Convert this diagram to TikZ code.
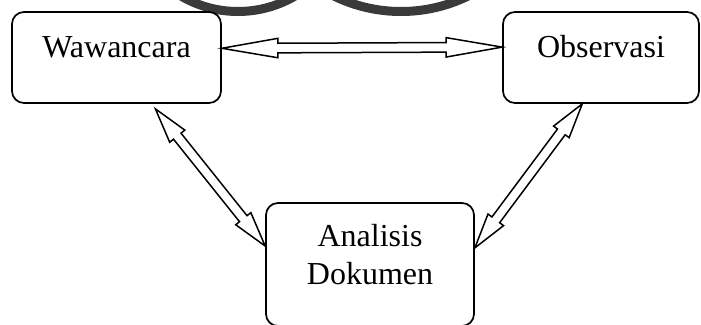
\documentclass[tikz,border=0pt]{standalone}
\usepackage{fontspec}
\setmainfont{Liberation Serif}
\usepackage{tikz}
\usetikzlibrary{calc}
\definecolor{arcgray}{HTML}{3A3A3A}

\newcommand{\hdlen}{35pt}
\tikzset{
  box/.style={draw, rounded corners=12pt, line width=1.7pt, inner sep=0pt,
    font=\fontsize{32pt}{38pt}\selectfont},
  head len/.code={\renewcommand{\hdlen}{#1}},
  hollow arrow/.style={draw, fill=white, line width=1.5pt, line join=miter,
    to path={
      -- ($(\tikztostart)!\hdlen!(\tikztotarget)!9.7pt!90:(\tikztotarget)$)
      -- ($(\tikztostart)!\hdlen!(\tikztotarget)!4.8pt!90:(\tikztotarget)$)
      -- ($(\tikztotarget)!\hdlen!(\tikztostart)!4.8pt!-90:(\tikztostart)$)
      -- ($(\tikztotarget)!\hdlen!(\tikztostart)!9.7pt!-90:(\tikztostart)$)
      -- (\tikztotarget)
      -- ($(\tikztotarget)!\hdlen!(\tikztostart)!9.7pt!90:(\tikztostart)$)
      -- ($(\tikztotarget)!\hdlen!(\tikztostart)!4.8pt!90:(\tikztostart)$)
      -- ($(\tikztostart)!\hdlen!(\tikztotarget)!4.8pt!-90:(\tikztotarget)$)
      -- ($(\tikztostart)!\hdlen!(\tikztotarget)!9.7pt!-90:(\tikztotarget)$)
      -- cycle}}
}

\begin{document}
\begin{tikzpicture}[x=1pt, y=-1pt]
    \useasboundingbox (0,0) rectangle (701,324);
    \clip (0,0) rectangle (701,324);

    % Rings cut off at the top
    \draw[line width=9pt, arcgray] (238,-101) circle (112.5pt);
    \draw[line width=9pt, arcgray] (401,-141) circle (152.5pt);

    % Boxes
    \node[box, anchor=base, minimum width=209pt, text height=45pt, text depth=46pt]
        (ww) at (116.5,57) {Wawancara};
    \node[box, anchor=base, minimum width=196pt, text height=45pt, text depth=46pt]
        (ob) at (601,57) {Observasi};
    \node[box, anchor=base, text width=208pt, align=center, text height=43pt, text depth=80pt]
        (an) at (370,246) {Analisis\\Dokumen};

    % Double arrows
    \draw[hollow arrow, head len=56pt] (ww.5.2) to (ob.174.5);
    \draw[hollow arrow] ($(ww.-50.5)+(0,5)$) to (an.170);
    \draw[hollow arrow] (ob.248.4) to (an.9);
\end{tikzpicture}
\end{document}
